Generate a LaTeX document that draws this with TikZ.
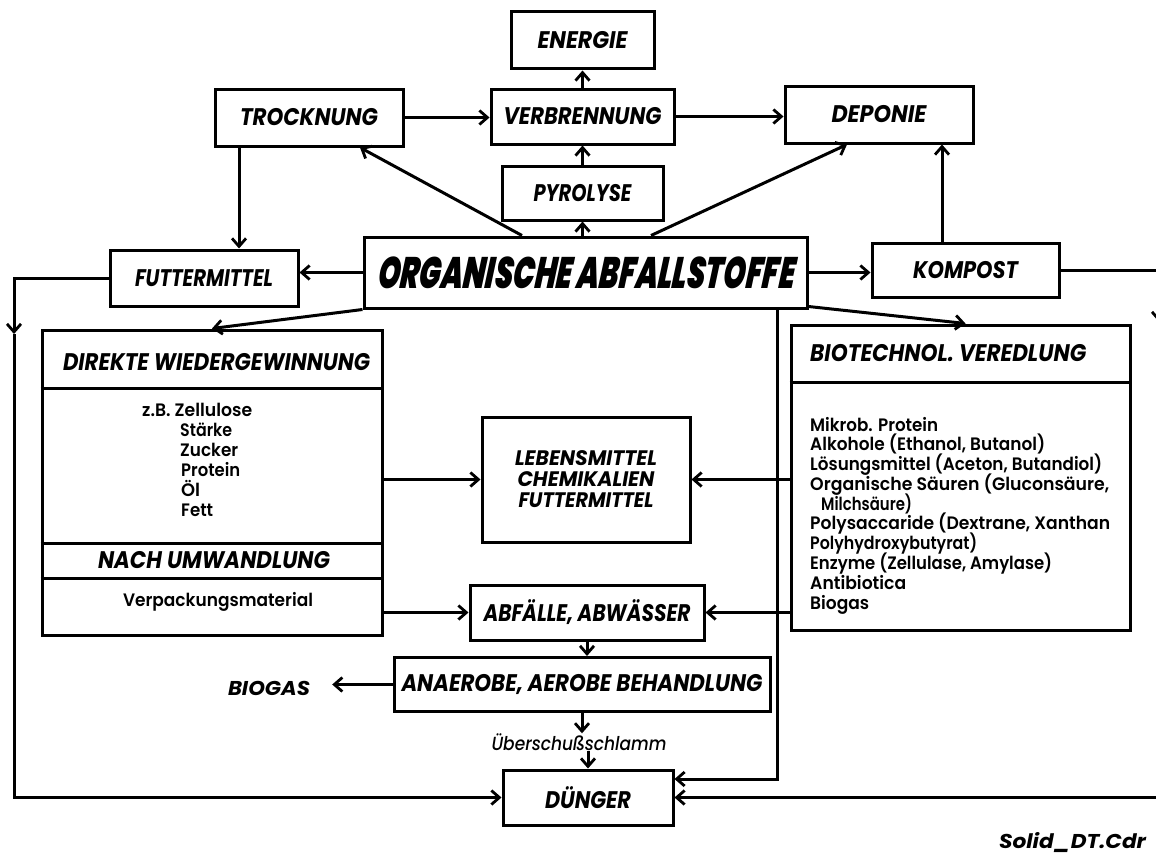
\documentclass[tikz,border=0pt]{standalone}
\usepackage{fontspec}
\usepackage{graphicx}
\usetikzlibrary{arrows.meta}
\newfontfamily\pop{Poppins}
\newfontfamily\popsm{Poppins SemiBold}[ItalicFont={Poppins Medium Italic}]
\newfontface\popheavy{Poppins Black Italic}[FakeSlant=0.15]
\newsavebox\fitbox
% set #2 and stretch it horizontally to the width #1 (in pt)
\newcommand\fitw[2]{\sbox\fitbox{#2}\pgfmathsetmacro\fitratio{#1/\the\wd\fitbox}\scalebox{\fitratio}[1]{\usebox\fitbox}}
\tikzset{
  lw/.style={line width=3pt},
  arr/.style={lw, -{Straight Barb[length=8pt,width=14pt,line width=2.8pt]}},
  box/.style 2 args={draw, lw, inner sep=0pt, minimum width=#1, minimum height=#2},
  bl/.style={inner sep=0pt, font=\pop\bfseries\itshape\fontsize{24}{20}\selectfont},
  st/.style={inner sep=0pt, font=\popsm\fontsize{18}{18}\selectfont},
  lst/.style={st, anchor=base west},
}
\begin{document}
\begin{tikzpicture}[x=1pt,y=-1pt]
\useasboundingbox (0,0) rectangle (1156,859);
\clip (0,0) rectangle (1156,859);

% ---- upper row of processes
\node[box={143pt}{57pt}, bl] (energie) at (582.5,40.5) {\fitw{90}{ENERGIE}};
\node[box={188pt}{57pt}, bl] (trock) at (309,117.5) {\fitw{138}{TROCKNUNG}};
\node[box={183pt}{55pt}, bl] (verbr) at (582.5,116.5) {\fitw{158}{VERBRENNUNG}};
\node[box={188pt}{57pt}, bl] (deponie) at (879,114.5) {\fitw{95}{DEPONIE}};
\node[box={161pt}{54pt}, bl] (pyro) at (582.5,193) {\fitw{98}{PYROLYSE}};

% ---- central row
\node[box={188pt}{56pt}, bl] (futter) at (204,278) {\fitw{138}{FUTTERMITTEL}};
\node[box={443pt}{71pt}, inner sep=0pt, font=\popheavy\fontsize{44}{44}\selectfont] (org) at (585.5,272.5) {\fitw{417}{ORGANISCHE ABFALLSTOFFE}};
\node[box={187pt}{54pt}, bl] (kompost) at (965.5,270) {\fitw{105}{KOMPOST}};

% ---- recovery block (left)
\node[box={340pt}{305pt}] (direkte) at (212,482.5) {};
\draw[lw] (direkte.west |- 0,388) -- (direkte.east |- 0,388);
\draw[lw] (direkte.west |- 0,543) -- (direkte.east |- 0,543);
\draw[lw] (direkte.west |- 0,578) -- (direkte.east |- 0,578);
\node[bl] (dwtitle) at (216.5,362) {\fitw{307}{DIREKTE WIEDERGEWINNUNG}};
\node[lst] (d1) at (142,416) {\fitw{110}{z.B. Zellulose}};
\node[lst] (d2) at (180,436) {\fitw{52}{Stärke}};
\node[lst] (d3) at (180,456) {\fitw{58}{Zucker}};
\node[lst] (d4) at (181,476) {\fitw{59}{Protein}};
\node[lst] (d5) at (181,496) {\fitw{19}{Öl}};
\node[lst] (d6) at (181,516) {\fitw{32}{Fett}};
\node[bl] (nuw) at (214,560) {\fitw{232}{NACH UMWANDLUNG}};
\node[st] (verp) at (218,602) {\fitw{190}{Verpackungsmaterial}};

% ---- biotechnology block (right)
\node[box={339pt}{305pt}] (biotech) at (960.5,477.5) {};
\draw[lw] (biotech.west |- 0,382) -- (biotech.east |- 0,382);
\node[bl, anchor=west] (bttitle) at (810,353) {\fitw{276}{BIOTECHNOL. VEREDLUNG}};
\node[lst] (b1) at (810,431) {\fitw{128}{Mikrob. Protein}};
\node[lst] (b2) at (810,450.8) {\fitw{235}{Alkohole (Ethanol, Butanol)}};
\node[lst] (b3) at (810,470.6) {\fitw{292}{Lösungsmittel (Aceton, Butandiol)}};
\node[lst] (b4) at (810,490.3) {\fitw{299}{Organische Säuren (Gluconsäure,}};
\node[lst] (b5) at (821,510.1) {\fitw{91}{Milchsäure)}};
\node[lst] (b6) at (810,529.9) {\fitw{300}{Polysaccaride (Dextrane, Xanthan}};
\node[lst] (b7) at (810,549.7) {\fitw{167}{Polyhydroxybutyrat)}};
\node[lst] (b8) at (810,569.4) {\fitw{242}{Enzyme (Zellulase, Amylase)}};
\node[lst] (b9) at (810,589.2) {\fitw{96}{Antibiotica}};
\node[lst] (b10) at (810,609) {\fitw{59}{Biogas}};

% ---- products and treatment chain
\node[box={208pt}{125pt}, bl, font=\pop\bfseries\itshape\fontsize{21}{21}\selectfont, align=center] (lebens) at (586,479.5)
  {\fitw{142}{LEBENSMITTEL}\\\fitw{137}{CHEMIKALIEN}\\\fitw{135}{FUTTERMITTEL}};
\node[box={234pt}{55pt}, bl] (abf) at (587,612.5) {\fitw{207}{ABFÄLLE, ABWÄSSER}};
\node[box={376pt}{54pt}, bl] (anaer) at (582,684.5) {\fitw{361}{ANAEROBE, AEROBE BEHANDLUNG}};
\node[inner sep=0pt, font=\pop\bfseries\itshape\fontsize{20}{20}\selectfont] (biogas) at (269,688) {\fitw{82}{BIOGAS}};
\node[inner sep=0pt, font=\popsm\itshape\fontsize{19}{19}\selectfont] (schlamm) at (579,742) {\fitw{175}{Überschußschlamm}};
\node[box={170pt}{55pt}, bl] (duenger) at (588,797.5) {\fitw{86}{DÜNGER}};
\node[inner sep=0pt, font=\pop\bfseries\itshape\fontsize{20}{20}\selectfont] (stamp) at (1072.5,843) {\fitw{147}{Solid\_DT.Cdr}};

% ---- connectors, upper part
\draw[arr] (verbr.north) -- (energie.south);
\draw[arr] (pyro.north) -- (verbr.south);
\draw[arr] (pyro.south |- org.north) -- (pyro.south);
\draw[arr] (trock.east) -- (trock.east -| verbr.west);
\draw[arr] (verbr.east) -- (verbr.east -| deponie.west);
\draw[arr] ([xshift=-63.5pt]org.north) -- ([xshift=51pt]trock.south);
\draw[arr] ([xshift=65.5pt]org.north) -- ([xshift=-32pt]deponie.south);
\coordinate (kd) at ([xshift=-23.5pt]kompost.north);
\draw[arr] (kd) -- (kd |- deponie.south);
\coordinate (tf) at ([xshift=-70pt]trock.south);
\draw[arr] (tf) -- (tf |- futter.north);
\draw[arr] (org.west) -- (org.west -| futter.east);
\draw[arr] (org.east) -- (org.east -| kompost.west);
\draw[arr] (org.south west) -- (direkte.north);
\draw[arr] ([yshift=3pt]org.south east) -- ([xshift=5pt]biotech.north);

% ---- long return lines to the fertiliser
\coordinate (ldown) at (14,334);
\draw[arr] (futter.west) -| (ldown);
\draw[arr] (ldown) |- (duenger.west);
\coordinate (rdown) at (1159,322);
\draw[arr] (kompost.east) -| (rdown);
\draw[arr] (rdown) |- (duenger.east);
\coordinate (obend) at (777,779);
\draw[arr] (org.south -| obend) |- ([yshift=18.5pt]duenger.east);

% ---- connectors, lower part
\draw[arr] (direkte.east |- lebens.west) -- (lebens.west);
\draw[arr] (biotech.west |- lebens.east) -- (lebens.east);
\draw[arr] (direkte.east |- abf.west) -- (abf.west);
\draw[arr] (biotech.west |- abf.east) -- (abf.east);
\draw[arr] (abf.south) -- (abf.south |- anaer.north);
\draw[arr, shorten >=22pt] (anaer.west) -- (anaer.west -| biogas.east);
\draw[arr] (anaer.south) -- (anaer.south |- schlamm.north);
\draw[arr] (schlamm.south -| duenger.north) -- (duenger.north);
\end{tikzpicture}
\end{document}
